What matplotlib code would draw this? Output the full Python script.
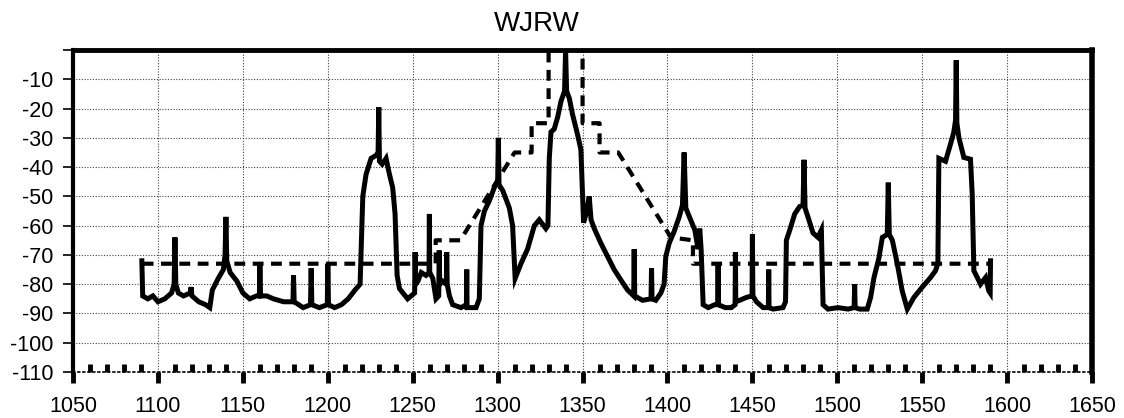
import matplotlib
matplotlib.use('Agg')
import matplotlib.pyplot as plt
from matplotlib.ticker import MultipleLocator

plt.rcParams['font.family'] = ['Liberation Sans', 'DejaVu Sans']

# measured spectrum (MHz, dB)
freq = [1090.5, 1091, 1094, 1097, 1100, 1104, 1108, 1109.5, 1110, 1110.5, 1112, 1115,
        1119, 1119.5, 1120, 1124, 1128, 1130.5, 1132, 1135.5, 1138.5, 1139.5, 1140, 1140.5,
        1142.5, 1146.5, 1150, 1154, 1158, 1159.7, 1160, 1160.4, 1164, 1168, 1174, 1179.5,
        1179.8, 1180.2, 1185.5, 1189.8, 1190.2, 1190.6, 1195, 1199.7, 1200, 1200.4, 1204,
        1208, 1212, 1216, 1219, 1220.6, 1222.5, 1225.5, 1228.4, 1229.6, 1230, 1230.4, 1232,
        1234.3, 1236.3, 1238.2, 1239.6, 1240.8, 1242.2, 1247, 1249, 1251.1, 1251.4, 1251.7,
        1253, 1255, 1257.8, 1259.6, 1259.8, 1260, 1261.8, 1263.7, 1265.3, 1265.6, 1265.9,
        1267.6, 1269.8, 1270, 1270.3, 1271.6, 1273.5, 1278.4, 1281.6, 1281.8, 1282, 1287.3,
        1289.2, 1290.2, 1292.2, 1295.1, 1298, 1300, 1300.4, 1300.8, 1303, 1306.9, 1308.8,
        1310.3, 1313.7, 1317.6, 1321.6, 1324.5, 1328.4, 1329.6, 1330.4, 1331.4, 1333.3,
        1335.3, 1337.3, 1339.4, 1340, 1340.6, 1342.2, 1344.1, 1347.1, 1349, 1350.6, 1352.5,
        1353.9, 1355, 1356.9, 1360.8, 1364.7, 1368.6, 1372.5, 1376.5, 1380.1, 1380.4, 1380.7,
        1385.3, 1390.3, 1390.6, 1390.9, 1393.1, 1396.1, 1398, 1399, 1401, 1403.9, 1406.9,
        1408.8, 1409.8, 1410.8, 1412.2, 1416.1, 1418, 1419, 1419.8, 1421, 1424, 1427.8,
        1429.6, 1429.8, 1430, 1434, 1437.6, 1439.8, 1440, 1440.2, 1442.5, 1446.5, 1449.8,
        1450, 1450.3, 1452.4, 1456.3, 1459.4, 1459.6, 1459.8, 1462.2, 1468, 1469.5, 1470,
        1472, 1474.9, 1477.8, 1479.8, 1480.4, 1481, 1482.7, 1485.7, 1488.6, 1490.6, 1491.6,
        1494.5, 1500.4, 1506.3, 1509.9, 1510.2, 1510.5, 1513.1, 1517.6, 1519.6, 1521.6,
        1524.5, 1526.5, 1529.4, 1530, 1530.6, 1532.4, 1535.3, 1538.2, 1541.2, 1545.1, 1550,
        1554.9, 1557.8, 1559.2, 1559.8, 1563.7, 1566.7, 1568.6, 1569.6, 1570, 1570.4, 1571.6,
        1574.5, 1578.4, 1579.4, 1580.4, 1582.4, 1584.3, 1587.3, 1589.2, 1590, 1590.2]
level = [-72, -84, -85, -84, -86, -85, -83, -80, -64, -80, -83, -84,
         -83, -81, -84, -86, -87, -88, -82, -78, -75, -70, -57, -72,
         -76, -79, -83, -85, -84, -84, -73.5, -84, -84, -85, -86, -86,
         -77, -86, -88, -87, -74.5, -87, -88, -87, -73, -87, -88,
         -87, -85, -82, -80, -50, -42.5, -37, -36, -35, -19.5, -38, -39,
         -37, -42.5, -47, -56, -77, -81.5, -85, -84, -83, -69, -80,
         -79, -76, -77, -76, -56, -76, -78, -85, -84, -68.5, -80,
         -79, -80, -69, -80, -84, -87, -88, -87, -75, -88, -88,
         -85, -60, -55, -51.5, -47, -45, -30, -46, -48, -54, -60,
         -78, -73, -68, -60, -58, -61, -60, -37, -28, -27,
         -23, -17.5, -14, 0, -14, -16.5, -22, -29, -34, -59, -55,
         -50, -58, -61, -66, -70.5, -75, -78.5, -82, -84, -68, -84,
         -85.5, -85, -74.5, -85, -85.5, -83, -80, -70.5, -66, -62, -57,
         -53, -35, -54, -56, -61.5, -68, -61, -68, -87, -88, -87,
         -87, -72.5, -87, -88, -88, -87, -69, -86, -85.5, -84.5, -84,
         -63, -84, -86, -88, -88, -75, -88, -88.5, -88, -86, -65,
         -61.5, -56, -53.5, -53, -37.5, -54, -57, -62.5, -64, -61.5, -87,
         -88.5, -88, -88.5, -88, -80, -88, -88.5, -88.5, -84.5, -77.7,
         -71, -64, -63, -45.3, -63, -65, -73, -82.3, -88.5, -84.5, -81,
         -77.7, -75.4, -73, -37, -38, -32, -28, -24, -3.5, -25, -30,
         -36.7, -37.3, -49, -75.4, -77.7, -80, -77.7, -82.3, -83, -72]

# emission mask
mask_freq = [1091, 1263.5, 1263.5, 1278, 1310, 1320, 1320, 1330, 1330, 1350, 1350,
             1360, 1360, 1371, 1402, 1415, 1415, 1590]
mask_level = [-73, -73, -65, -65, -35, -35, -25, -25, 0, 0, -25,
              -25, -35, -35, -64, -65, -73, -73]

xticks = list(range(1050, 1651, 50))
yticks = list(range(-110, 1, 10))
ylabels = [str(v) for v in yticks[:-1]] + ['']

fig = plt.figure(figsize=(11.24, 4.18), dpi=100)
ax = fig.add_axes([0.065, 0.110, 0.9066, 0.7703])

ax.plot(mask_freq, mask_level, color='black', lw=3, dashes=(2.6, 1.8))
ax.plot(freq, level, color='black', lw=3.6, solid_joinstyle='miter')

ax.set_xlim(1050, 1650)
ax.set_ylim(-110, 0)
ax.set_xticks(xticks)
ax.set_yticks(yticks)
ax.set_yticklabels(ylabels)
ax.xaxis.set_minor_locator(MultipleLocator(10))
ax.grid(True, which='major', color='#444444', linestyle=(0, (1, 1.5)), linewidth=0.8)

ax.tick_params(axis='y', direction='out', length=7, width=1.2, pad=7, labelsize=15.5)
ax.tick_params(axis='x', which='major', direction='out', length=8, width=3.5, pad=9, labelsize=15.5)
ax.tick_params(axis='x', which='minor', direction='in', length=6, width=3.5)

ax.spines['top'].set_linewidth(3.5)
ax.spines['left'].set_linewidth(3)
ax.spines['left'].set_linestyle((0, (2.5, 1)))
ax.spines['right'].set_linewidth(4)
ax.spines['right'].set_linestyle((0, (2, 1)))
ax.spines['bottom'].set_linewidth(1.2)
ax.spines['bottom'].set_linestyle((0, (1, 2)))

ax.text(0.455, 1.04, 'WJRW', transform=ax.transAxes, ha='center', va='bottom', fontsize=20)

plt.savefig('out.png', dpi=100)
